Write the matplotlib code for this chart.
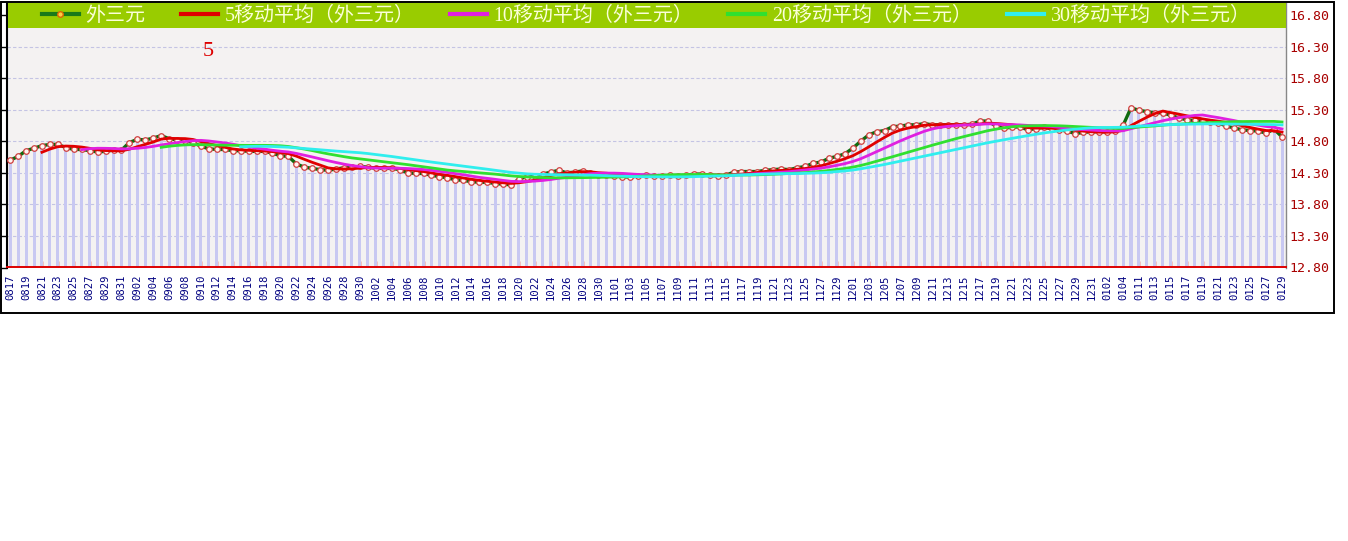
import matplotlib
matplotlib.use("Agg")
import matplotlib.pyplot as plt
from matplotlib.lines import Line2D
from matplotlib.patches import Rectangle
import numpy as np
import pandas as pd

# ---------------- data ----------------
price = [
    14.50, 14.56, 14.65, 14.69, 14.73, 14.75, 14.75, 14.70, 14.67, 14.67,
    14.65, 14.63, 14.64, 14.66, 14.66, 14.78, 14.83, 14.82, 14.85, 14.89,
    14.84, 14.82, 14.81, 14.78, 14.72, 14.68, 14.67, 14.67, 14.65, 14.65,
    14.64, 14.64, 14.64, 14.61, 14.57, 14.56, 14.44, 14.39, 14.37, 14.35,
    14.34, 14.36, 14.38, 14.39, 14.40, 14.39, 14.37, 14.37, 14.37, 14.35,
    14.30, 14.29, 14.29, 14.26, 14.24, 14.22, 14.19, 14.18, 14.16, 14.15,
    14.15, 14.13, 14.12, 14.11, 14.20, 14.24, 14.25, 14.28, 14.31, 14.34,
    14.30, 14.31, 14.33, 14.30, 14.27, 14.26, 14.25, 14.24, 14.23, 14.25,
    14.26, 14.25, 14.25, 14.26, 14.25, 14.26, 14.28, 14.28, 14.26, 14.25,
    14.26, 14.31, 14.32, 14.32, 14.32, 14.34, 14.35, 14.36, 14.35, 14.38,
    14.40, 14.45, 14.47, 14.53, 14.56, 14.60, 14.69, 14.80, 14.90, 14.95,
    14.97, 15.03, 15.04, 15.06, 15.06, 15.08, 15.06, 15.06, 15.06, 15.06,
    15.06, 15.07, 15.12, 15.12, 15.04, 15.01, 15.02, 15.03, 14.98, 15.00,
    15.02, 15.00, 14.98, 14.96, 14.92, 14.94, 14.95, 14.95, 14.95, 14.96,
    15.05, 15.33, 15.29, 15.27, 15.25, 15.25, 15.21, 15.17, 15.14, 15.13,
    15.12, 15.11, 15.09, 15.04, 15.01, 14.98, 14.97, 14.96, 14.93, 14.99,
    14.87,
]

tick_labels = [
    "0817", "0819", "0821", "0823", "0825", "0827", "0829", "0831", "0902", "0904",
    "0906", "0908", "0910", "0912", "0914", "0916", "0918", "0920", "0922", "0924",
    "0926", "0928", "0930", "1002", "1004", "1006", "1008", "1010", "1012", "1014",
    "1016", "1018", "1020", "1022", "1024", "1026", "1028", "1030", "1101", "1103",
    "1105", "1107", "1109", "1111", "1113", "1115", "1117", "1119", "1121", "1123",
    "1125", "1127", "1129", "1201", "1203", "1205", "1207", "1209", "1211", "1213",
    "1215", "1217", "1219", "1221", "1223", "1225", "1227", "1229", "1231", "0102",
    "0104", "0111", "0113", "0115", "0117", "0119", "0121", "0123", "0125", "0127",
    "0129",
]

ma_windows = [5, 10, 20, 30]
series_names = ["外三元", "5移动平均（外三元）", "10移动平均（外三元）",
                "20移动平均（外三元）", "30移动平均（外三元）"]
y_ticks = [12.80, 13.30, 13.80, 14.30, 14.80, 15.30, 15.80, 16.30, 16.80]

# ---------------- figure ----------------
W, H = 1348, 541
fig = plt.figure(figsize=(W / 100, H / 100), dpi=100)
fig.patch.set_facecolor("white")

ax_l, ax_r, ax_t, ax_b = 7, 1286, 3, 267.5
ax = fig.add_axes([ax_l / W, 1 - ax_b / H, (ax_r - ax_l) / W, (ax_b - ax_t) / H])
ax.set_facecolor("#f4f2f2")

x = np.arange(len(price))
s = pd.Series(price)
ymin = 12.80

# bars
ax.bar(x, np.array(price) - ymin, bottom=ymin, width=0.38,
       color="#c8c8f2", edgecolor="none", zorder=1)

# price line
ax.plot(x, price, color="#0f6a0f", lw=2.4, zorder=3,
        marker="o", markersize=4, markerfacecolor="#fff4f0",
        markeredgecolor="#d04040", markeredgewidth=0.9)

ma_colors = ["#e00000", "#e020e0", "#30e030", "#30eeee"]
for w, c in zip(ma_windows, ma_colors):
    ma = s.rolling(w).mean()
    ax.plot(x, ma, color=c, lw=2.0, zorder=4)

ax.set_xlim(-0.4, len(price) - 0.5)
ax.set_ylim(ymin, 16.99)

# grid
ax.set_yticks(y_ticks)
ax.set_yticklabels([f"{v:.2f}" for v in y_ticks])
ax.yaxis.grid(True, color="#c4c4e4", linestyle=(0, (3, 2)), lw=0.8, zorder=0)
ax.set_axisbelow(True)
ax.tick_params(axis="y", which="both", left=True, right=False,
               labelleft=False, labelright=True, length=4, width=1,
               color="black", labelcolor="#a80000", pad=-1.2,
               labelfontfamily="DejaVu Sans Mono", labelsize=9.5)

ax.set_xticks(x[::2])
ax.set_xticklabels(tick_labels, rotation=90)
ax.tick_params(axis="x", direction="in", length=4, width=1, color="#dd0000",
               labelcolor="#000080", pad=5, labelsize=7.6,
               labelfontfamily="DejaVu Sans Mono")

ax.spines["top"].set_visible(False)
ax.spines["left"].set_color("black")
ax.spines["left"].set_linewidth(1.5)
ax.spines["right"].set_color("#888888")
ax.spines["right"].set_linewidth(1.0)
ax.spines["bottom"].set_color("#dd0000")
ax.spines["bottom"].set_linewidth(1.4)

# legend bar
bar_bottom = (ax_b - 28) / (ax_b - ax_t)
ax.add_patch(Rectangle((0.0008, bar_bottom), 1 - 0.0008, 1 - bar_bottom,
                       transform=ax.transAxes, facecolor="#99cc00",
                       edgecolor="none", zorder=6, clip_on=False))

handles = [Line2D([], [], color="#1a7a1a", lw=3, marker="o", markersize=4,
                  markerfacecolor="#ffcc44", markeredgecolor="#dd6600")]
handles += [Line2D([], [], color=c, lw=3) for c in ma_colors]
leg = ax.legend(handles, series_names, loc="center",
                bbox_to_anchor=(0.5, (ax_b - 16) / (ax_b - ax_t)),
                ncol=5, frameon=False, handlelength=1.85, handletextpad=0.35,
                columnspacing=1.75, borderpad=0, borderaxespad=0,
                prop={"family": ["Liberation Serif", "Noto Sans CJK SC"], "size": 14.4},
                labelcolor="#fbffd8")
leg.set_zorder(7)

# red "5"
fig.text(208 / W, 1 - 52 / H, "5", color="#dd0000", fontsize=16,
         family="Liberation Serif", ha="center", va="center")

# outer frame
fig.add_artist(Rectangle((1 / W, 1 - 313 / H), 1333 / W, 311 / H,
                         transform=fig.transFigure, facecolor="none",
                         edgecolor="black", lw=1.4))

fig.savefig("out.png", dpi=100, facecolor="white")
